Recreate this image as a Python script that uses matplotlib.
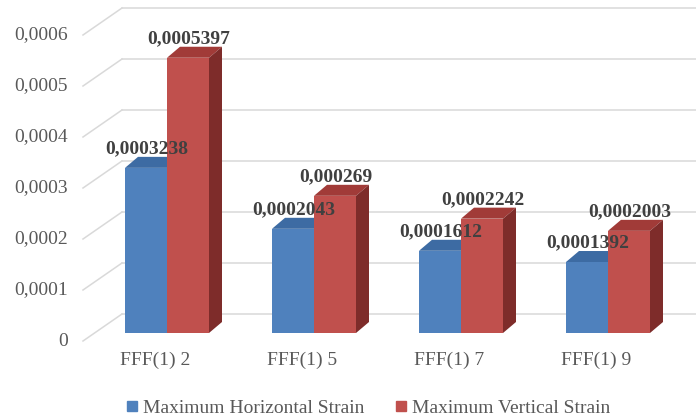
import matplotlib
matplotlib.use("Agg")
import matplotlib.pyplot as plt
from matplotlib.patches import Polygon
from matplotlib.lines import Line2D

categories = ["FFF(1) 2", "FFF(1) 5", "FFF(1) 7", "FFF(1) 9"]
horizontal = [0.0003238, 0.0002043, 0.0001612, 0.0001392]
vertical = [0.0005397, 0.000269, 0.0002242, 0.0002003]
series_names = ["Maximum Horizontal Strain", "Maximum Vertical Strain"]
y_ticks = [0, 0.0001, 0.0002, 0.0003, 0.0004, 0.0005, 0.0006]

plt.rcParams['font.family'] = ['Liberation Serif', 'DejaVu Serif']

W, H = 696, 418
fig = plt.figure(figsize=(W / 100, H / 100), dpi=100)
ax = fig.add_axes([0, 0, 1, 1])
ax.set_axis_off()

# pixel-based layout of the pseudo-3D column chart
STEP = 147.0            # px between categories
PX_PER_UNIT = 510000.0  # px per unit of strain
X0 = 167.0              # px x of first category centre
Y0 = 333.0              # px y of bar bases
ax.set_xlim(-X0 / STEP, (W - X0) / STEP)
ax.set_ylim((Y0 - H) / PX_PER_UNIT, Y0 / PX_PER_UNIT)


def px_x(p):
    return p / STEP


def px_y(p):
    return p / PX_PER_UNIT


bar_w = px_x(42)
depth_x = px_x(13)
depth_y = px_y(11)

grid_col = "#D9D9D9"
text_col = "#595959"
label_col = "#404040"

# back wall gridlines and the floor diagonals leading to them
wall_x0 = px_x(122 - X0)
front_x0 = px_x(83 - X0)
for t in y_ticks:
    yb = t + px_y(19)
    yf = t - px_y(8)
    ax.plot([wall_x0, px_x(W - X0)], [yb, yb], color=grid_col, lw=1.1, zorder=1)
    ax.plot([front_x0, wall_x0], [yf, yb], color=grid_col, lw=1.1, zorder=1)
    lab = "0" if t == 0 else f"{t:.4f}".replace(".", ",")
    ax.text(px_x(68 - X0), yf, lab, ha="right", va="center",
            fontsize=14, color=text_col)

series = [
    (horizontal, -bar_w / 2, "#4F81BD", "#3D6BA3", "#2F5583"),
    (vertical, bar_w / 2, "#C0504D", "#A13B38", "#7E2C2A"),
]

for k, (vals, off, c_front, c_top, c_side) in enumerate(series):
    xs = [i + off for i in range(len(categories))]
    z = 3 + k * 3
    ax.bar(xs, vals, width=bar_w, color=c_front, zorder=z, linewidth=0)
    for x, v in zip(xs, vals):
        xl, xr = x - bar_w / 2, x + bar_w / 2
        top = Polygon([(xl, v), (xr, v), (xr + depth_x, v + depth_y),
                       (xl + depth_x, v + depth_y)], closed=True,
                      facecolor=c_top, edgecolor="none", zorder=z - 1)
        side = Polygon([(xr, 0), (xr + depth_x, depth_y),
                        (xr + depth_x, v + depth_y), (xr, v)], closed=True,
                       facecolor=c_side, edgecolor="none", zorder=z - 1)
        ax.add_patch(top)
        ax.add_patch(side)
        txt = f"{v:.7f}".rstrip("0").replace(".", ",")
        ax.text(x + px_x(1), v + px_y(19), txt, ha="center", va="center",
                fontsize=14, fontweight="bold", color=label_col, zorder=10)

for i, c in enumerate(categories):
    ax.text(i - px_x(12), -px_y(27), c, ha="center", va="center",
            fontsize=14, color=text_col)

handles = [Line2D([], [], marker="s", linestyle="none", markersize=7.5,
                  color=s[2]) for s in series]
fig.legend(handles, series_names, loc="center",
           bbox_to_anchor=(368 / W, 1 - 408 / H), ncol=2, frameon=False,
           fontsize=14, handlelength=0.6, handletextpad=0.25,
           columnspacing=1.6, labelcolor=text_col, borderpad=0)

fig.savefig("out.png", dpi=100)
